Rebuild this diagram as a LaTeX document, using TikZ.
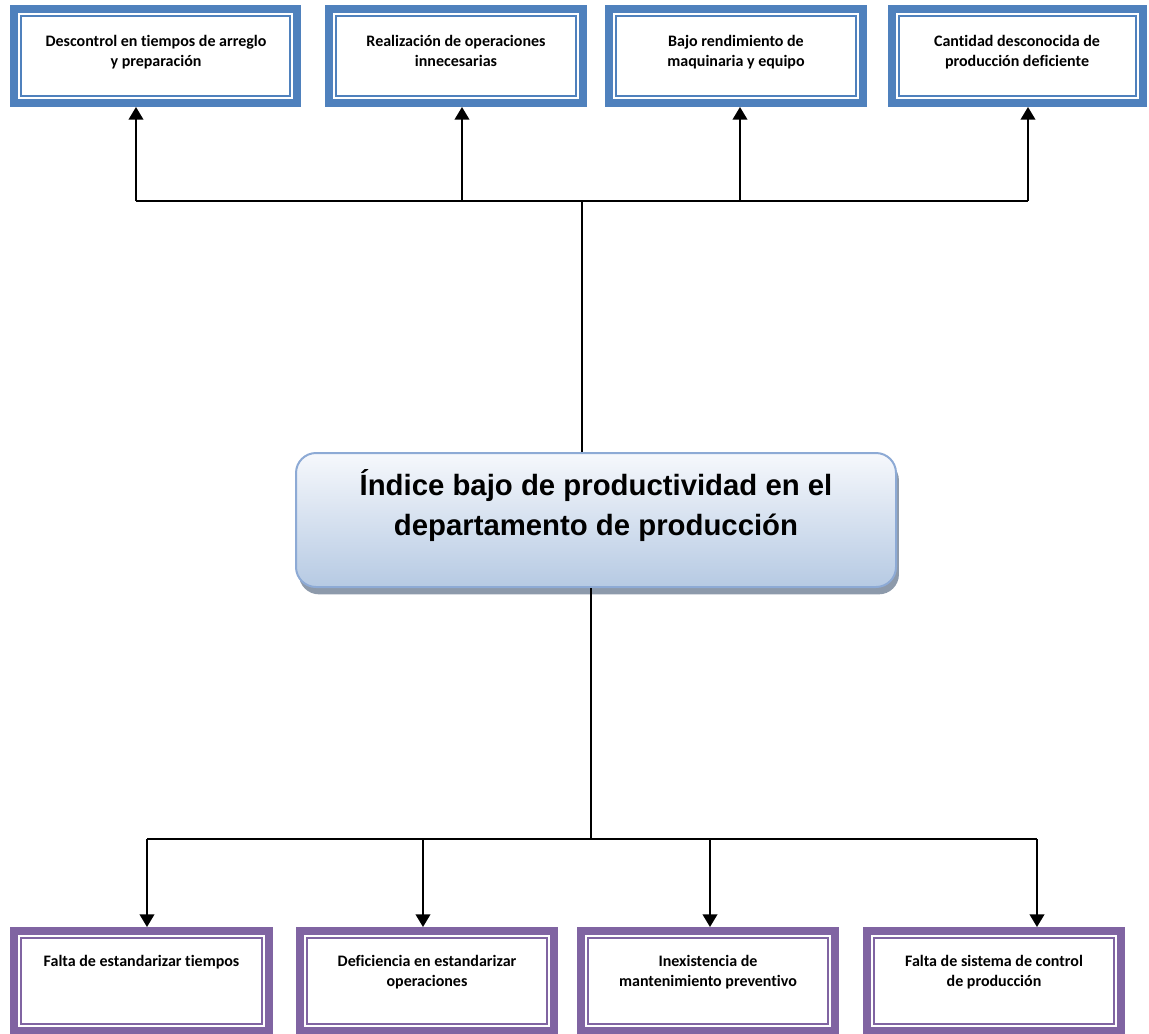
\documentclass[tikz,border=0pt]{standalone}
\usepackage{fontspec}
\setmainfont{Carlito}[Ligatures=NoCommon]
\newfontfamily\headfont{Liberation Sans}
\usetikzlibrary{arrows.meta,shadows}

\definecolor{effectblue}{HTML}{4F81BD}
\definecolor{causepurple}{HTML}{8064A2}
\definecolor{coreedge}{HTML}{8DAAD5}
\definecolor{coretop}{HTML}{F6F8FC}
\definecolor{corebottom}{HTML}{B6CAE3}
\definecolor{coreshadow}{HTML}{8D9AAB}

\tikzset{
  framed/.style={rectangle, draw=#1, line width=6pt, outer sep=3pt,
                 fill=white, inner sep=0pt},
  effectbox/.style={framed=effectblue, minimum width=#1*0.75pt, minimum height=70.5pt},
  causebox/.style={framed=causepurple, minimum width=#1*0.75pt, minimum height=75pt},
  boxtext/.style={anchor=north, align=center, inner sep=0pt,
                  font=\bfseries\fontsize{12pt}{15pt}\selectfont},
  core/.style={rectangle, draw=coreedge, line width=1.5pt, rounded corners=15pt,
               top color=coretop, bottom color=corebottom, inner sep=0pt,
               drop shadow={shadow xshift=2.2pt, shadow yshift=-5.5pt,
                            fill=coreshadow, opacity=1}},
  coretext/.style={align=center, inner sep=0pt,
                   font=\headfont\bfseries\fontsize{22pt}{30pt}\selectfont},
  wire/.style={draw=black, line width=1.4pt},
  arrowwire/.style={wire, -{Triangle[width=11pt,length=9.5pt]}},
}

\begin{document}
\begin{tikzpicture}[x=0.75pt, y=-0.75pt]
\useasboundingbox (0,0) rectangle (1149,1033);

% effect boxes (top row)
\node[effectbox=283] (e1) at (155.5,56) {};
\node[effectbox=254] (e2) at (456,56) {};
\node[effectbox=254] (e3) at (736,56) {};
\node[effectbox=251] (e4) at (1017.5,56) {};

% cause boxes (bottom row)
\node[causebox=255] (c1) at (141.5,981) {};
\node[causebox=254] (c2) at (427,981) {};
\node[causebox=254] (c3) at (708,981) {};
\node[causebox=254] (c4) at (994,981) {};

% thin inner frames
\foreach \n/\c in {e1/effectblue,e2/effectblue,e3/effectblue,e4/effectblue,
                   c1/causepurple,c2/causepurple,c3/causepurple,c4/causepurple}
  \draw[draw=\c, line width=1.5pt]
    ([shift={(8.6pt,-8.6pt)}]\n.north west) rectangle ([shift={(-8.6pt,8.6pt)}]\n.south east);

% box texts
\node[boxtext] (e1t) at (156,35) {Descontrol en tiempos de arreglo\\y preparación};
\node[boxtext] (e2t) at (456,35) {Realización de operaciones\\innecesarias};
\node[boxtext] (e3t) at (736,35) {Bajo rendimiento de\\maquinaria y equipo};
\node[boxtext] (e4t) at (1017,35) {Cantidad desconocida de\\producción deficiente};

\node[boxtext] (c1t) at (141.5,955) {Falta de estandarizar tiempos};
\node[boxtext] (c2t) at (427,955) {Deficiencia en estandarizar\\operaciones};
\node[boxtext] (c3t) at (708,955) {Inexistencia de\\mantenimiento preventivo};
\node[boxtext] (c4t) at (994,955) {Falta de sistema de control\\de producción};

% central problem
\node[core, minimum width=450pt, minimum height=100.5pt] (core) at (596,520) {};
\node[coretext] (coret) at (596,506)
  {Índice bajo de productividad en el\\departamento de producción};

% upper distribution
\coordinate (u0) at (582,201);
\coordinate (u1) at (136,201);
\coordinate (u2) at (462,201);
\coordinate (u3) at (740,201);
\coordinate (u4) at (1028,201);
\draw[wire] (core.north -| u0) -- (u0);
\draw[wire] (u1) -- (u4);
\foreach \k in {1,2,3,4}
  \draw[arrowwire] (u\k) -- (u\k |- e\k.south);

% lower distribution
\coordinate (d0) at (591,839);
\coordinate (d1) at (147,839);
\coordinate (d2) at (423,839);
\coordinate (d3) at (710,839);
\coordinate (d4) at (1037,839);
\draw[wire] (core.south -| d0) -- (d0);
\draw[wire] (d1) -- (d4);
\foreach \k in {1,2,3,4}
  \draw[arrowwire] (d\k) -- (d\k |- c\k.north);
\end{tikzpicture}
\end{document}
